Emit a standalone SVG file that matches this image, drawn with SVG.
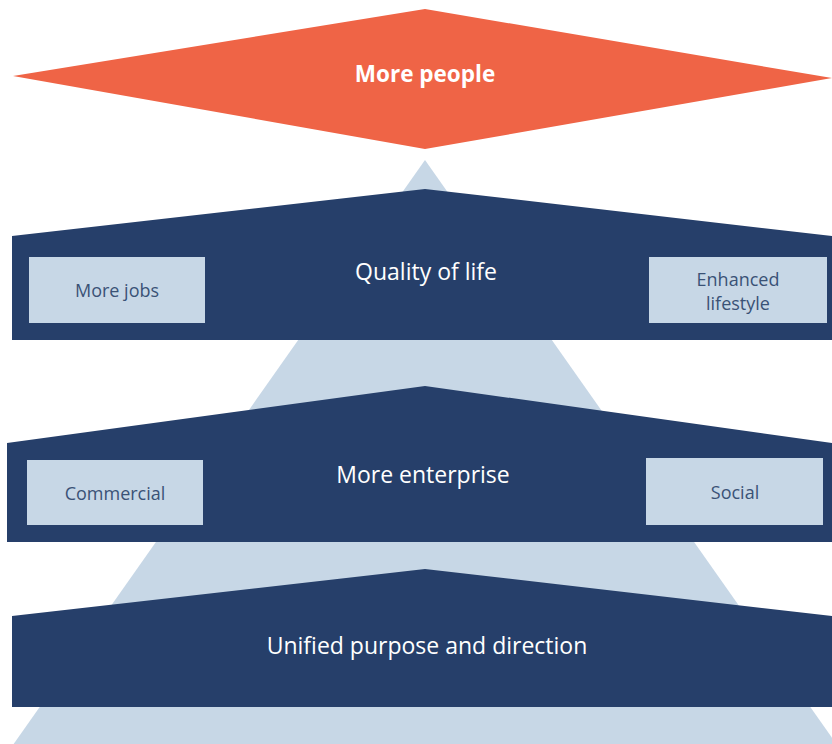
<svg xmlns="http://www.w3.org/2000/svg" width="832" height="744" viewBox="0 0 832 744">
  <style>
    .band { fill: #263f6a; }
    .box { fill: #c7d7e6; }
    .title { font-family: "Open Sans", "Noto Sans", sans-serif; font-size: 23px; fill: #ffffff; text-anchor: middle; }
    .label { font-family: "Open Sans", "Noto Sans", sans-serif; font-size: 18px; fill: #3a5276; text-anchor: middle; }
  </style>
  <rect width="832" height="744" fill="#ffffff"/>

  <!-- backdrop pyramid -->
  <polygon id="pyramid" points="425,160 842,752 8,752" fill="#c7d7e6"/>

  <!-- apex: diamond -->
  <g id="more-people">
    <polygon points="425,9 832,78 425,149 13,76" fill="#ef6446"/>
    <text x="425" y="82" class="title" style="font-weight:bold;font-size:22.5px">More people</text>
  </g>

  <!-- tier 1 -->
  <g id="quality-of-life">
    <polygon class="band" points="12,236 425,189 832,236 832,340 12,340"/>
    <text x="426" y="280" class="title">Quality of life</text>
  </g>
  <g id="more-jobs">
    <rect class="box" x="29" y="257" width="176" height="66"/>
    <text x="117" y="297" class="label">More jobs</text>
  </g>
  <g id="enhanced-lifestyle">
    <rect class="box" x="649" y="257" width="178" height="66"/>
    <text x="738" y="286" class="label">Enhanced</text>
    <text x="738" y="310" class="label">lifestyle</text>
  </g>

  <!-- tier 2 -->
  <g id="more-enterprise">
    <polygon class="band" points="7,443 425,386 832,443 832,542 7,542"/>
    <text x="423" y="483" class="title">More enterprise</text>
  </g>
  <g id="commercial">
    <rect class="box" x="27" y="460" width="176" height="65"/>
    <text x="115" y="500" class="label">Commercial</text>
  </g>
  <g id="social">
    <rect class="box" x="646" y="458" width="177" height="67"/>
    <text x="735" y="499" class="label">Social</text>
  </g>

  <!-- tier 3 -->
  <g id="unified-purpose">
    <polygon class="band" points="12,616 425,569 832,616 832,707 12,707"/>
    <text x="427" y="654" class="title">Unified purpose and direction</text>
  </g>

  <g id="connectors"></g>
</svg>
